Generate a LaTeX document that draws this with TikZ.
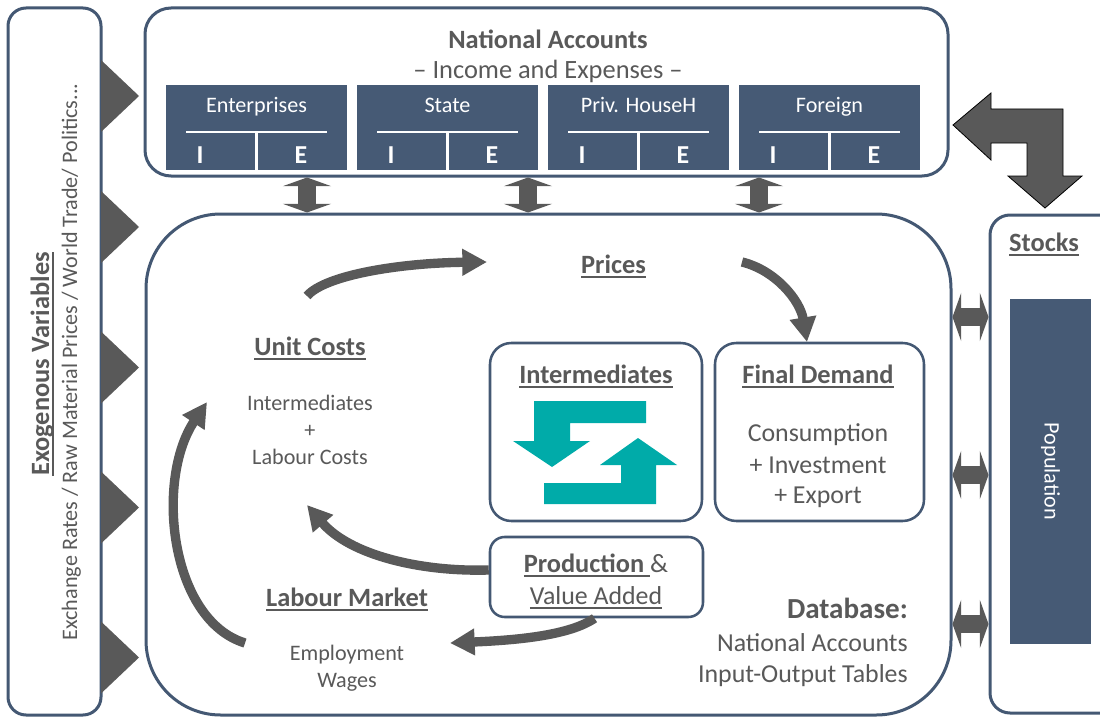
\documentclass[tikz,border=0pt]{standalone}
\usepackage{fontspec}
\setmainfont{Carlito}
\usetikzlibrary{arrows.meta,fit,calc}
\definecolor{txtgray}{RGB}{89,89,89}
\definecolor{slateline}{RGB}{68,88,115}
\definecolor{slatefill}{RGB}{70,90,117}
\definecolor{agray}{RGB}{89,89,89}
\definecolor{tealicon}{RGB}{0,171,169}
\newcommand{\fhead}{\fontsize{19.8pt}{24pt}\selectfont}
\newcommand{\fbig}{\fontsize{19.4pt}{23pt}\selectfont}
\newcommand{\fsml}{\fontsize{16.6pt}{20pt}\selectfont}
\newcommand{\fdb}{\fontsize{21.8pt}{26pt}\selectfont}
\newcommand{\myul}[1]{\setbox0\hbox{#1}\rlap{\rule[-0.19em]{\wd0}{0.06em}}\box0}
\begin{document}
\begin{tikzpicture}[x=0.75pt,y=-0.75pt,
  box/.style={draw=slateline, line width=2.25pt, fill=white, inner sep=0pt},
  ibox/.style={draw=slateline, line width=1.9pt, fill=white, inner sep=0pt},
  sector/.style={fill=slatefill, inner sep=0pt},
  txt/.style={text=txtgray, inner sep=0pt, anchor=base},
  head/.style={txt, font=\fhead\bfseries},
  big/.style={txt, font=\fbig},
  sml/.style={txt, font=\fsml},
  wtxt/.style={text=white, inner sep=0pt, anchor=base},
  dbl/.style={draw=agray, line width=13.5pt,
    {Triangle[length=6.5pt,width=36pt]}-{Triangle[length=6.5pt,width=36pt]}},
  flow/.style={draw=agray, line width=7pt, -{Triangle[length=18.5pt,width=19pt]}},
  pointer/.style={fill=agray},
  icon/.style={fill=tealicon}
]
\useasboundingbox (0,0) rectangle (1100,717);
\fill[white] (0,0) rectangle (1100,717);

% ---- outer boxes
\node[box, rounded corners=13.5pt, fit={(8,8) (101,715)}] (exo) {};
\node[box, rounded corners=19.5pt, fit={(145,8) (948,176)}] (na) {};
\node[box, rounded corners=56pt, fit={(146,214) (951,715)}] (main) {};
\node[box, rounded corners=15pt, fit={(990,215) (1125,713)}] (stocks) {};

% ---- exogenous text
\node[head, rotate=90] (exotit) at (49,364) {\myul{Exogenous Variables}};
\node[sml, rotate=90] (exotxt) at (77,362) {Exchange Rates / Raw Material Prices / World Trade/ Politics...};

% ---- pointers from exogenous box
\foreach \c in {96,227,367.5,507.5,657.5}
  \fill[pointer] (101,\c-36) -- (139,\c) -- (101,\c+36) -- cycle;

% ---- national accounts
\node[head] (natit) at (548,49) {National Accounts};
\node[txt, font=\fontsize{19.8pt}{24pt}\selectfont] (nasub) at (548,79) {– Income and Expenses –};
\foreach \x/\nm/\lab in {166/ent/Enterprises, 357/sta/State, 548/phh/Priv. HouseH, 739/frn/Foreign}{
  \node[sector, fit={(\x,85) (\x+181,170)}] (\nm) {};
  \node[wtxt, font=\fsml] (\nm lab) at (\x+90.5,113) {\lab};
  \draw[white, line width=1.9pt] (\x+20,132) -- (\x+161,132);
  \draw[white, line width=1.9pt] (\x+90.5,132) -- (\x+90.5,170);
  \node[wtxt, font=\fbig\bfseries] (\nm I) at (\x+34,163) {I};
  \node[wtxt, font=\fbig\bfseries] (\nm E) at (\x+135,163) {E};
}

% ---- vertical double arrows NA <-> main
\foreach \cx in {307,528,759}
  \draw[dbl] (\cx,0 |- na.south) -- (\cx,0 |- main.north);

% ---- stocks
\node[head] (stt) at (1044,251) {\myul{Stocks}};
\node[sector, fit={(1010,299) (1091,644)}] (pop) {};
\node[text=white, inner sep=0pt, font=\fsml, rotate=-90] (poptxt) at (pop.center) {Population};
\foreach \cy in {317,475,624}
  \draw[dbl] (main.east |- 0,\cy) -- (stocks.west |- 0,\cy);

% ---- big L arrow NA <-> stocks
\filldraw[fill=agray, draw=black, line width=0.6pt]
  (953,125) -- (991,93) -- (991,109) -- (1063,109) -- (1063,176) -- (1082,176)
  -- (1045,208) -- (1008,176) -- (1027,176) -- (1027,143) -- (991,143) -- (991,160) -- cycle;

% ---- inner boxes
\node[ibox, rounded corners=16pt, fit={(490,343) (702,521)}] (inter) {};
\node[ibox, rounded corners=16pt, fit={(715,343) (924,521)}] (fd) {};
\node[ibox, rounded corners=11pt, fit={(490,537) (703,617)}] (prod) {};

% ---- texts in main box
\node[head] (prices) at (613.5,273) {\myul{Prices}};
\node[head] (uct) at (310,355) {\myul{Unit Costs}};
\node[sml] (uc1) at (310,410) {Intermediates};
\node[sml] (uc2) at (310,437) {+};
\node[sml] (uc3) at (310,464) {Labour Costs};
\node[head] (lmt) at (347,606) {\myul{Labour Market}};
\node[sml] (lm1) at (347,660) {Employment};
\node[sml] (lm2) at (347,687) {Wages};
\node[head] (intt) at (596,383) {\myul{Intermediates}};
\node[head] (fdt) at (818,383) {\myul{Final Demand}};
\node[big] (fd1) at (818,441) {Consumption};
\node[big] (fd2) at (818,473) {+ Investment};
\node[big] (fd3) at (818,503) {+ Export};
\node[head] (prt) at (596,572) {\myul{Production\ }\mdseries\&};
\node[big] (pr2) at (596,604) {\myul{Value Added}};
\node[txt, font=\fdb\bfseries, anchor=base east] (dbt) at (908,618) {Database:};
\node[big, anchor=base east] (db1) at (908,651) {National Accounts};
\node[big, anchor=base east] (db2) at (908,682) {Input-Output Tables};

% ---- teal icon
\fill[icon] (646,401) -- (534,401) -- (534,441) -- (513,441) -- (552,467) -- (590,441)
  -- (570,441) -- (570,423) -- (646,423) -- cycle;
\fill[icon] (544,504) -- (656,504) -- (656,465) -- (677,465) -- (638,438) -- (600,465)
  -- (621,465) -- (621,483) -- (544,483) -- cycle;

% ---- flow arrows
\coordinate (ucOut) at (307,296);
\coordinate (prIn) at (487,262);
\coordinate (prOut) at (742,262);
\coordinate (fdIn) at (807,342);
\coordinate (lmOut) at (245,643);
\coordinate (ucIn1) at (207,402);
\coordinate (ucIn2) at (307,505);
\coordinate (lmIn) at (450,643);
\draw[flow] (ucOut) .. controls (325,275) and (400,263) .. (prIn);
\draw[flow] (prOut) .. controls (775,270) and (800,300) .. (fdIn);
\draw[flow] (lmOut) .. controls (170,620) and (155,480) .. (ucIn1);
\draw[flow] ([yshift=5.25pt]prod.west) .. controls (420,572) and (350,555) .. (ucIn2);
\draw[flow] ([xshift=-1.5pt]prod.south) .. controls (570,635) and (520,640) .. (lmIn);
\end{tikzpicture}
\end{document}
